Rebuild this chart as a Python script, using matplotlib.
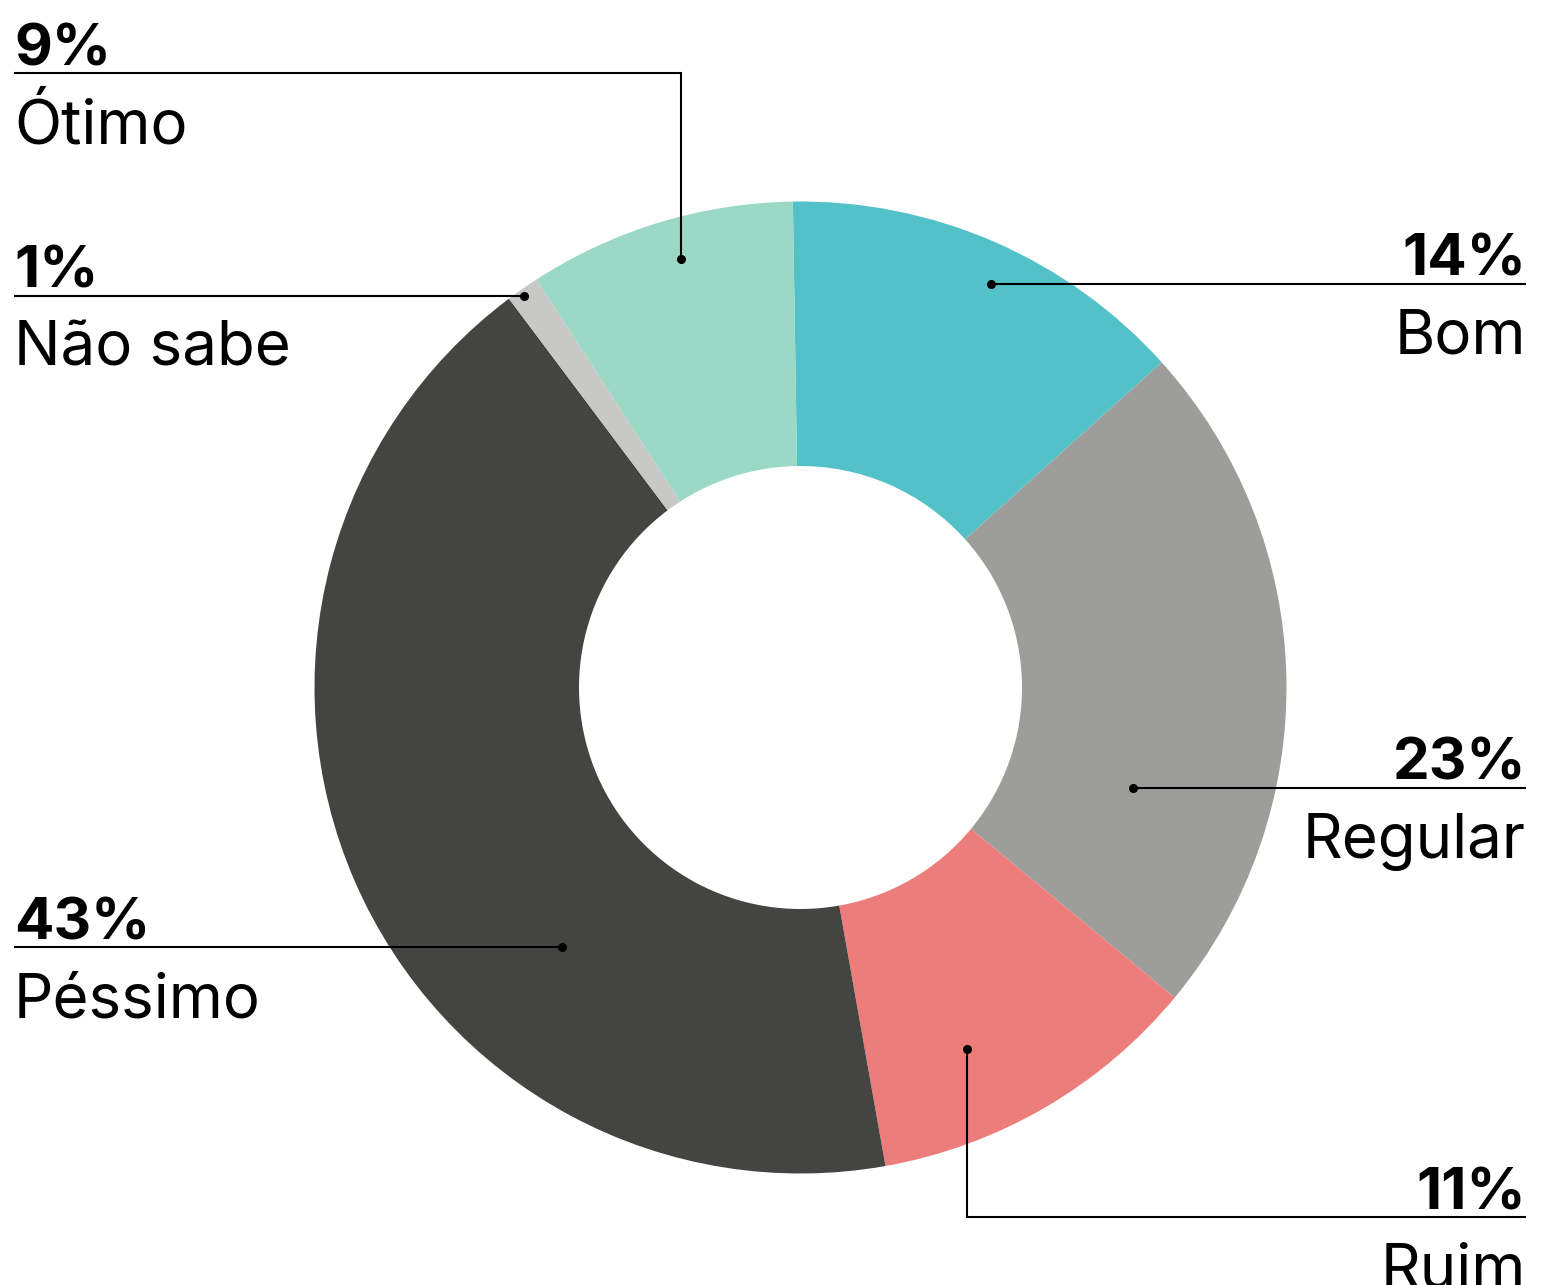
import matplotlib.pyplot as plt

categories = ['Bom', 'Regular', 'Ruim', 'Péssimo', 'Não sabe', 'Ótimo']
shares = [13.6, 22.7, 11.2, 42.6, 1.1, 8.9]
colors = ['#52c1c8', '#9d9d9b', '#ec7d7b', '#444442', '#c8c8c6', '#9bd8c5']

# label layout in pixels: dot position, line y, side
label_layout = {
    'Bom':      dict(dot=(991, 284), line_y=284, side='right'),
    'Regular':  dict(dot=(1133, 788), line_y=788, side='right'),
    'Ruim':     dict(dot=(967, 1049), line_y=1217, side='right'),
    'Péssimo':  dict(dot=(562, 947), line_y=947, side='left'),
    'Não sabe': dict(dot=(524, 296), line_y=296, side='left'),
    'Ótimo':    dict(dot=(681, 259), line_y=73, side='left'),
}

W, H = 1543, 1285
fig = plt.figure(figsize=(W / 100, H / 100), dpi=100)
ax = fig.add_axes([0, 0, 1, 1])

R_OUT, R_IN = 486, 221.5
# y axis is inverted below, so counterclockwise in data = clockwise on screen
ax.pie(shares, colors=colors, startangle=-90.9, counterclock=True,
       center=(800.5, 687.5), radius=R_OUT,
       wedgeprops=dict(width=R_OUT - R_IN, linewidth=0))

ax.set_xlim(0, W)
ax.set_ylim(H, 0)
ax.axis('off')

font = 'Inter'
for cat, share in zip(categories, shares):
    lay = label_layout[cat]
    dx, dy = lay['dot']
    ly = lay['line_y']
    edge = 14 if lay['side'] == 'left' else 1526
    if ly == dy:
        ax.plot([edge, dx], [ly, ly], color='black', lw=1.5, solid_capstyle='butt')
    else:
        ax.plot([edge, dx, dx], [ly, ly, dy], color='black', lw=1.5,
                solid_capstyle='butt', solid_joinstyle='miter')
    ax.plot(dx, dy, 'o', color='black', ms=5.5)
    ha = 'left' if lay['side'] == 'left' else 'right'
    ax.text(edge, ly - 8, f'{round(share)}%', ha=ha, va='baseline',
            fontsize=42, fontweight='bold', family=font, color='black')
    ax.text(edge, ly + 70, cat, ha=ha, va='baseline',
            fontsize=44.5, fontweight='normal', family=font, color='black')

fig.savefig('out.png', dpi=100, facecolor='white')
